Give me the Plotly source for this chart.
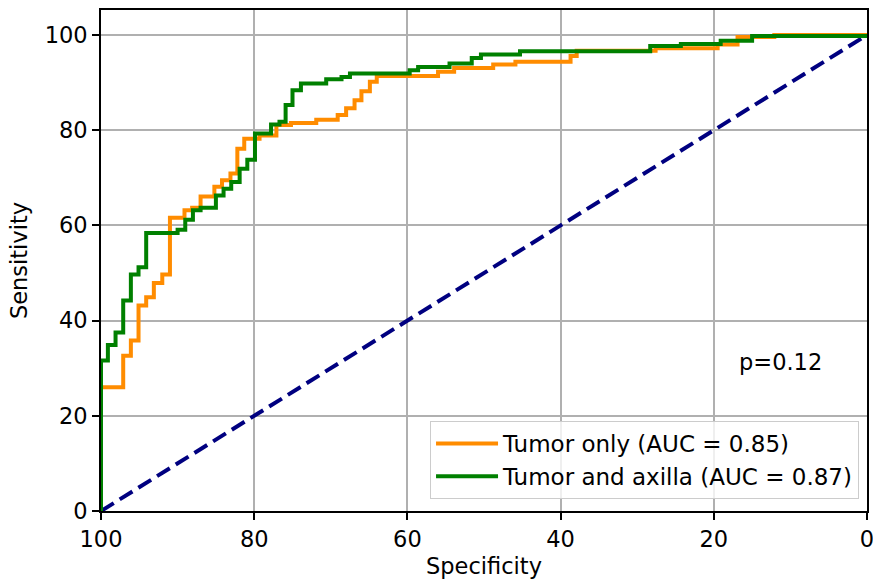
import plotly.graph_objects as go

# Specificity (%) / Sensitivity (%) step points
tumor_spec = [100, 100, 97.1, 96.1, 95.1, 94.1, 93.1, 92.0, 91.0, 89.1, 88.1, 87.0, 85.2, 84.2,
              83.1, 82.2, 81.3, 79.3, 77.1, 75.2, 71.9, 69.1, 68.0, 66.9, 66.0, 64.9, 64.0,
              56.0, 53.9, 48.8, 45.9, 38.7, 37.9, 27.6, 19.5, 16.9, 12.1, 0]
tumor_sens = [0, 26.0, 32.6, 35.8, 43.2, 44.9, 47.9, 49.7, 61.6, 63.2, 63.7, 66.1, 68.1, 69.5,
              70.9, 76.1, 78.2, 78.9, 81.1, 81.5, 82.2, 83.2, 84.6, 86.3, 88.2, 90.2, 91.4,
              92.3, 93.1, 93.8, 94.4, 95.6, 96.7, 97.2, 98.0, 99.6, 100, 100]

axilla_spec = [100, 100, 99.1, 98.1, 97.1, 96.1, 95.1, 94.1, 90.0, 89.0, 88.0, 87.0, 85.0, 84.0,
               83.0, 81.9, 80.9, 79.9, 77.8, 76.7, 75.9, 75.0, 73.9, 70.6, 68.6, 67.5, 59.7,
               58.6, 54.5, 51.6, 50.4, 45.3, 28.3, 24.3, 19.1, 15.0, 0]
axilla_sens = [0, 31.6, 34.9, 37.5, 44.2, 49.7, 51.2, 58.4, 59.1, 61.2, 63.2, 63.7, 66.3, 67.7,
               69.1, 71.9, 73.8, 79.3, 81.2, 81.8, 85.3, 88.4, 89.8, 90.7, 91.2, 91.9, 92.6,
               93.3, 94.0, 95.2, 95.9, 96.6, 97.7, 98.1, 98.8, 99.8, 100]

chance_spec = [100, 0]
chance_sens = [0, 100]

labels = ["Tumor only (AUC = 0.85)", "Tumor and axilla (AUC = 0.87)"]
p_text = "p=0.12"
x_ticks = [100, 80, 60, 40, 20, 0]
y_ticks = [0, 20, 40, 60, 80, 100]

FONT = "DejaVu Sans"
FS = 22.5

fig = go.Figure()
fig.add_trace(go.Scatter(x=chance_spec, y=chance_sens, mode="lines", showlegend=False,
                         line=dict(color="#000080", width=4, dash="15px,7px"), hoverinfo="skip"))
fig.add_trace(go.Scatter(x=tumor_spec, y=tumor_sens, mode="lines", name=labels[0],
                         line=dict(color="#ff8c00", width=4, shape="hv"), legendgroup="a"))
fig.add_trace(go.Scatter(x=axilla_spec, y=axilla_sens, mode="lines", name=labels[1],
                         line=dict(color="#008000", width=4, shape="hv"), legendgroup="b"))

fig.add_annotation(x=11.3, y=31.4, xref="x", yref="y", text=p_text, showarrow=False,
                   font=dict(family=FONT, size=FS, color="black"))

axis_common = dict(showline=True, linecolor="black", linewidth=1.6, mirror=True,
                   showgrid=True, gridcolor="#b0b0b0", gridwidth=1.6,
                   ticks="outside", ticklen=7, tickwidth=1.6, tickcolor="black",
                   tickfont=dict(family=FONT, size=FS, color="black"), zeroline=False,
                   automargin=False, ticklabeloverflow="allow")

fig.update_xaxes(range=[100, 0], tickvals=x_ticks, ticktext=[str(v) for v in x_ticks],
                 title=dict(text="Specificity", font=dict(family=FONT, size=FS, color="black"), standoff=10),
                 **axis_common)
fig.update_yaxes(range=[0, 105.26], tickvals=y_ticks, ticktext=[str(v) for v in y_ticks],
                 title=dict(text="Sensitivity", font=dict(family=FONT, size=FS, color="black"), standoff=11),
                 **axis_common)

fig.update_layout(
    template="none",
    width=873, height=579,
    margin=dict(l=101, r=6, t=10, b=68),
    plot_bgcolor="white", paper_bgcolor="white",
    font=dict(family=FONT, size=FS, color="black"),
    showlegend=True,
    legend=dict(x=0.9896, y=0.024, xanchor="right", yanchor="bottom",
                bgcolor="rgba(255,255,255,0.8)", bordercolor="#cccccc", borderwidth=1,
                font=dict(family=FONT, size=23, color="black"),
                tracegroupgap=0, itemwidth=62),
)

fig.write_html("out.html", config={"displayModeBar": False},
               post_script="document.body.style.margin='0';document.body.style.overflow='hidden';")
